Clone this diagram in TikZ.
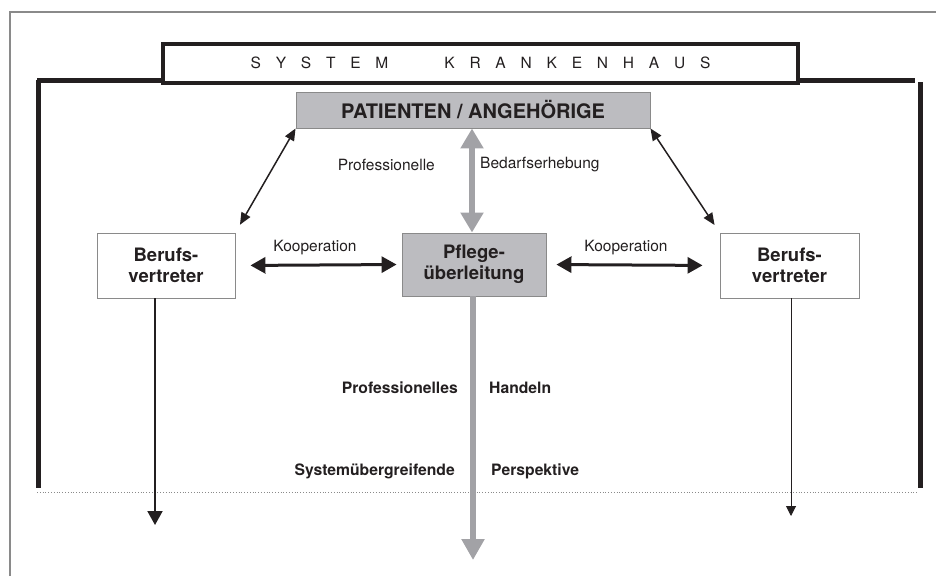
\documentclass[tikz,border=0pt]{standalone}
\usepackage{fontspec}
\setmainfont{TeX Gyre Heros}
\usetikzlibrary{arrows.meta}
\definecolor{boxgray}{HTML}{BCBCC0}
\definecolor{arrowgray}{HTML}{A2A2A6}
\definecolor{linegray}{HTML}{8A8A8A}
\definecolor{ink}{HTML}{231F20}
\newcommand{\lsp}{\kern14.8pt}
\begin{document}
\begin{tikzpicture}[x=1pt,y=-1pt]
				\tikzstyle{Box} = [rectangle, draw=linegray, line width=0.9pt, inner sep=0pt, align=center, text=ink, font=\bfseries\fontsize{18.5}{21.5}\selectfont]
				\tikzstyle{Label} = [inner sep=0pt, text=ink, font=\fontsize{15.5}{18}\selectfont]
				\tikzstyle{BoldLabel} = [Label, font=\bfseries\fontsize{15.7}{18}\selectfont]
				\useasboundingbox (0,0) rectangle (936,576);
				% frame
				\draw[linegray, line width=1.5] (10,576) -- (10,12) -- (936,12);
				\draw[ink, line width=5] (37,80) -- (915,80);
				\draw[ink, line width=5] (38,80) -- (38,488);
				\draw[ink, line width=5] (920,82) -- (920,488);
				\draw[linegray, dotted, line width=0.8] (37,492) -- (918,492);
				\node (system) at (480.5,63) [rectangle, draw=ink, line width=4, fill=white, minimum width=635, minimum height=39, inner sep=0pt, text=ink, font=\fontsize{15.5}{18}\selectfont] {S\lsp Y\lsp S\lsp T\lsp E\lsp M\hspace{56pt}K\lsp R\lsp A\lsp N\lsp K\lsp E\lsp N\lsp H\lsp A\lsp U\lsp S\hspace{16pt}};
				% boxes
				\node (patient) at (473,110) [Box, fill=boxgray, minimum width=354, minimum height=36, font=\bfseries\fontsize{20}{24}\selectfont] {PATIENTEN / ANGEHÖRIGE};
				\node (pflege) at (474,264.5) [Box, fill=boxgray, minimum width=144, minimum height=63] {Pflege-\\überleitung};
				\node (berufsL) at (166,265.5) [Box, fill=white, minimum width=138, minimum height=65] {Berufs-\\vertreter};
				\node (berufsR) at (789.5,265.5) [Box, fill=white, minimum width=139, minimum height=65] {Berufs-\\vertreter};
				\coordinate (outL) at (155,525);
				\coordinate (outR) at (791,516);
				\coordinate (outM) at (473,560);
				% labels
				\node (kooL) at (315,248) [Label] {Kooperation};
				\node (kooR) at (626,248) [Label] {Kooperation};
				\node (prof) at (435,165) [Label, anchor=east] {Professionelle};
				\node (bedarf) at (480,165) [Label, anchor=west] {Bedarfserhebung};
				\node (profH) at (458,388) [BoldLabel, anchor=east] {Professionelles};
				\node (handeln) at (489,388) [BoldLabel, anchor=west] {Handeln};
				\node (system2) at (455,471) [BoldLabel, anchor=east] {Systemübergreifende};
				\node (persp) at (491,471) [BoldLabel, anchor=west] {Perspektive};
				% arrows
				\draw [arrowgray, line width=5.5, {Triangle[width=22,length=20]}-{Triangle[width=22,length=20]}] (patient.south -| 472,0) to (pflege.north -| 472,0);
				\draw [ink, line width=1.5, {Triangle[width=10,length=12]}-{Triangle[width=10,length=12]}, shorten >=9] (patient.south west) to (berufsL.north east);
				\draw [ink, line width=1.5, {Triangle[width=10,length=12]}-{Triangle[width=10,length=12]}, shorten >=9] (patient.south east) to (berufsR.north west);
				\draw [ink, line width=3, {Triangle[width=16,length=15]}-{Triangle[width=16,length=15]}, shorten <=15, shorten >=5] (berufsL.east) to (pflege.west);
				\draw [ink, line width=3, {Triangle[width=16,length=15]}-{Triangle[width=16,length=15]}, shorten <=10, shorten >=17] (pflege.east) to (berufsR.west);
				\draw [ink, line width=2, -{Triangle[width=15,length=14]}] (berufsL.south -| outL) to (outL);
				\draw [ink, line width=1, -{Triangle[width=10,length=10]}] (berufsR.south -| outR) to (outR);
				\draw [arrowgray, line width=5.5, -{Triangle[width=22,length=21]}] (pflege.south -| outM) to (outM);
			\end{tikzpicture}
\end{document}
